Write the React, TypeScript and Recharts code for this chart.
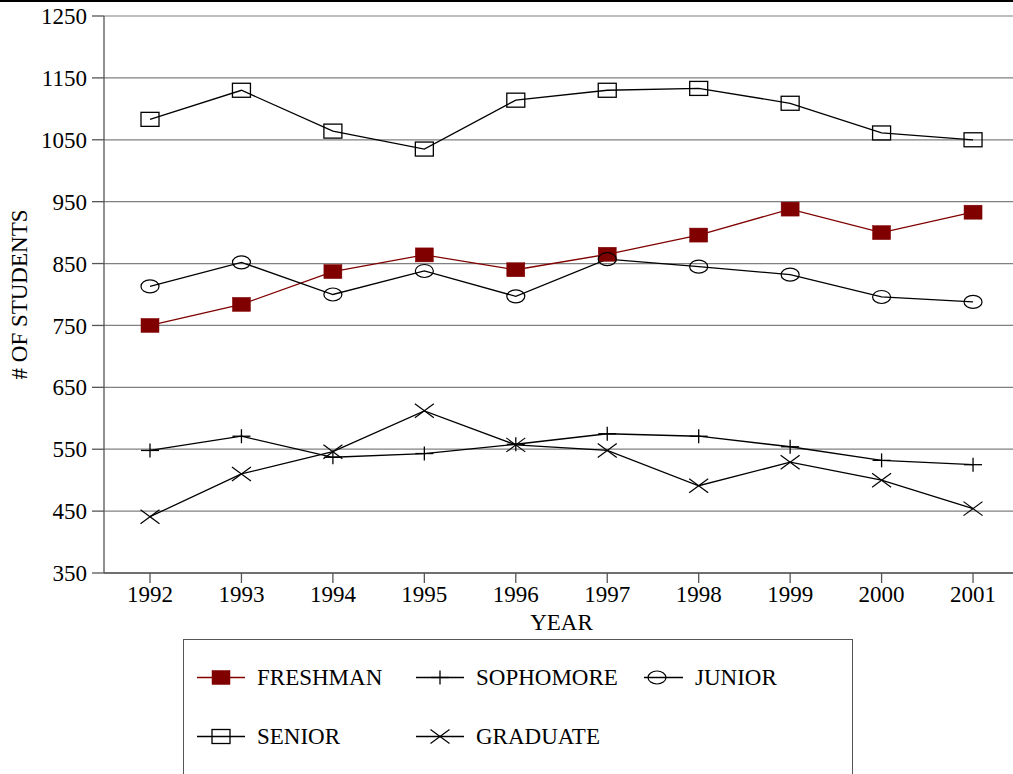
import React from 'react';
import { LineChart, Line, XAxis, YAxis, CartesianGrid, Legend } from 'recharts';

const years = [1992, 1993, 1994, 1995, 1996, 1997, 1998, 1999, 2000, 2001];
const freshman = [750, 784, 837, 864, 840, 865, 896, 938, 900, 933];
const sophomore = [548, 571, 537, 543, 558, 575, 571, 554, 532, 525];
const junior = [813, 852, 800, 838, 797, 857, 845, 832, 796, 788];
const senior = [1083, 1130, 1064, 1035, 1114, 1130, 1133, 1109, 1061, 1050];
const graduate = [441, 510, 546, 612, 557, 548, 491, 529, 500, 454];
const yTicks = [350, 450, 550, 650, 750, 850, 950, 1050, 1150, 1250];

const seriesNames = ['FRESHMAN', 'SOPHOMORE', 'JUNIOR', 'SENIOR', 'GRADUATE'];

const data = years.map((y, i) => ({
  year: y,
  FRESHMAN: freshman[i],
  SOPHOMORE: sophomore[i],
  JUNIOR: junior[i],
  SENIOR: senior[i],
  GRADUATE: graduate[i],
}));

const FONT = '"Liberation Serif", "Times New Roman", serif';
const RED = '#800000';
const GRID = '#808080';
const AXIS = '#555555';

type Shape = 'filledSquare' | 'plus' | 'circle' | 'square' | 'cross';

const Marker = ({ shape, cx, cy, color }: { shape: Shape; cx: number; cy: number; color: string }) => {
  switch (shape) {
    case 'filledSquare':
      return <rect x={cx - 9} y={cy - 7} width={18} height={14} fill={color} stroke={color} strokeWidth={0.5} />;
    case 'square':
      return <rect x={cx - 9} y={cy - 7} width={18} height={14} fill="none" stroke={color} strokeWidth={1.3} />;
    case 'circle':
      return <ellipse cx={cx} cy={cy} rx={9} ry={6.5} fill="none" stroke={color} strokeWidth={1.2} />;
    case 'plus':
      return (
        <g stroke={color} strokeWidth={1.3}>
          <line x1={cx - 9} y1={cy} x2={cx + 9} y2={cy} />
          <line x1={cx} y1={cy - 7} x2={cx} y2={cy + 7} />
        </g>
      );
    case 'cross':
      return (
        <g stroke={color} strokeWidth={1.2}>
          <line x1={cx - 9.5} y1={cy - 7} x2={cx + 9.5} y2={cy + 7} />
          <line x1={cx - 9.5} y1={cy + 7} x2={cx + 9.5} y2={cy - 7} />
        </g>
      );
  }
  return null;
};

const shapes: Record<string, Shape> = {
  FRESHMAN: 'filledSquare',
  SOPHOMORE: 'plus',
  JUNIOR: 'circle',
  SENIOR: 'square',
  GRADUATE: 'cross',
};
const colors: Record<string, string> = {
  FRESHMAN: RED,
  SOPHOMORE: '#000',
  JUNIOR: '#000',
  SENIOR: '#000',
  GRADUATE: '#000',
};

const makeDot = (name: string) => (props: any) => {
  const { cx, cy, index } = props;
  if (cx == null || cy == null) return <g key={`${name}-${index}`} />;
  return (
    <g key={`${name}-${index}`}>
      <Marker shape={shapes[name]} cx={cx} cy={cy} color={colors[name]} />
    </g>
  );
};

// legend layout: [x of line start, line end, marker center, text x, row]
const legendLayout: Record<string, { x1: number; x2: number; mx: number; tx: number; row: number }> = {
  FRESHMAN: { x1: 13, x2: 61, mx: 37, tx: 73, row: 0 },
  SOPHOMORE: { x1: 232, x2: 280, mx: 256, tx: 292, row: 0 },
  JUNIOR: { x1: 460, x2: 499, mx: 473, tx: 511, row: 0 },
  SENIOR: { x1: 13, x2: 61, mx: 37, tx: 73, row: 1 },
  GRADUATE: { x1: 232, x2: 280, mx: 256, tx: 292, row: 1 },
};
const rowY = [39, 98];

const LegendBox = (props: any) => {
  const payload = props.payload || [];
  return (
    <div
      style={{
        width: 670,
        height: 150,
        boxSizing: 'border-box',
        border: '1.5px solid #555',
        background: '#fff',
      }}
    >
      <svg width={667} height={147} style={{ display: 'block' }}>
        {payload.map((p: any) => {
          const name = p.value as string;
          const l = legendLayout[name];
          if (!l) return null;
          const y = rowY[l.row] - 1.5;
          return (
            <g key={name}>
              <line x1={l.x1} y1={y} x2={l.x2} y2={y} stroke={colors[name]} strokeWidth={1.3} />
              <Marker shape={shapes[name]} cx={l.mx} cy={y} color={colors[name]} />
              <text x={l.tx} y={y + 7.8} fontFamily={FONT} fontSize={23} fill="#000">
                {name}
              </text>
            </g>
          );
        })}
      </svg>
    </div>
  );
};

export default function App() {
  return (
    <div style={{ position: 'absolute', left: 0, top: 0, width: 1013, height: 774, background: '#fff', overflow: 'hidden' }}>
      <LineChart
        width={1013}
        height={774}
        data={data}
        margin={{ top: 16, right: 0, bottom: 141, left: 0 }}
      >
        <CartesianGrid vertical={false} stroke={GRID} strokeWidth={1.2} />
        <XAxis
          dataKey="year"
          type="number"
          domain={[1991.497, 2001.437]}
          ticks={years}
          interval={0}
          allowDataOverflow
          height={60}
          tickSize={10}
          tickMargin={3}
          stroke={AXIS}
          strokeWidth={1.3}
          tick={{ fontSize: 23, fontFamily: FONT, fill: '#000' }}
          label={{
            content: (p: any) => {
              const vb = p.viewBox;
              return (
                <text
                  x={vb.x + vb.width / 2 + 3}
                  y={622 - 573 + vb.y + 7.6}
                  textAnchor="middle"
                  fontFamily={FONT}
                  fontSize={23}
                  fill="#000"
                >
                  YEAR
                </text>
              );
            },
          }}
        />
        <YAxis
          type="number"
          domain={[350, 1250]}
          ticks={yTicks}
          interval={0}
          allowDataOverflow
          width={104}
          tickSize={12}
          tickMargin={5}
          stroke={AXIS}
          strokeWidth={1.3}
          tick={{ fontSize: 23, fontFamily: FONT, fill: '#000' }}
          label={{
            content: (p: any) => {
              const vb = p.viewBox;
              const cx = vb.x + 27;
              const cy = vb.y + vb.height / 2;
              return (
                <text
                  x={cx}
                  y={cy}
                  transform={`rotate(-90 ${cx} ${cy})`}
                  textAnchor="middle"
                  fontFamily={FONT}
                  fontSize={23}
                  fill="#000"
                >
                  # OF STUDENTS
                </text>
              );
            },
          }}
        />
        <Legend
          layout="horizontal"
          verticalAlign="middle"
          align="center"
          wrapperStyle={{ position: 'absolute', left: 183, top: 639, width: 670, height: 150 }}
          content={<LegendBox />}
        />
        {seriesNames.map((name) => (
          <Line
            key={name}
            type="linear"
            dataKey={name}
            name={name}
            stroke={colors[name]}
            strokeWidth={1.3}
            dot={makeDot(name)}
            activeDot={false}
            isAnimationActive={false}
          />
        ))}
      </LineChart>
      <div style={{ position: 'absolute', left: 0, top: 0, width: 1013, height: 2, background: '#000' }} />
    </div>
  );
}
